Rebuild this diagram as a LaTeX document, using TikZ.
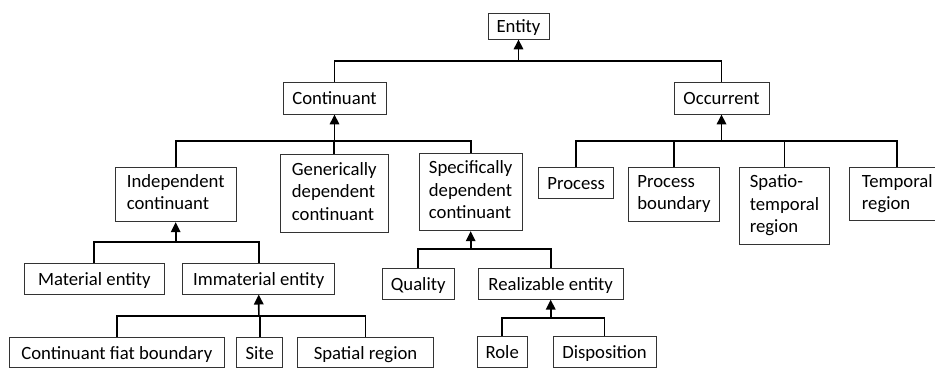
\documentclass[tikz,border=0pt]{standalone}
\usepackage{fontspec}
\setmainfont{Carlito}
\usetikzlibrary{arrows.meta}
\newcommand{\boxstrut}{\rule[-4.75pt]{0pt}{22.5pt}}
\tikzset{
  box/.style={draw=black!80, line width=0.9pt, fill=white, inner sep=0pt, align=left,
    font=\fontsize{18.7}{22.5}\selectfont,
    execute at begin node=\boxstrut, execute at end node=\boxstrut},
  conn/.style={line width=1.7pt, black},
  arr/.style={conn, -{Triangle[length=10pt,width=9.5pt]}},
}
\begin{document}
\begin{tikzpicture}[x=1pt,y=-1pt]
\useasboundingbox (0,0) rectangle (935,370);
% nodes
\node[box, minimum width=61pt, minimum height=26pt] (entity) at (518.5,26) {Entity};
\node[box, minimum width=103pt, minimum height=32pt] (cont) at (334.5,98) {Continuant};
\node[box, minimum width=95pt, minimum height=32pt] (occ) at (721.5,98) {Occurrent};
\node[box, minimum width=121.3pt, minimum height=54.4pt] (indep) at (175.7,194.5) {Independent\\continuant};
\node[box, minimum width=107.3pt, minimum height=77.6pt] (gen) at (334.3,193.5) {Generically\\dependent\\continuant};
\node[box, minimum width=103.3pt, minimum height=77.2pt] (spec) at (470.7,192.1) {Specifically\\dependent\\continuant};
\node[box, minimum width=75pt, minimum height=30.5pt] (proc) at (576.2,183) {Process};
\node[box, minimum width=91.4pt, minimum height=54pt] (pbound) at (674,194.7) {Process\\boundary};
\node[box, minimum width=90.4pt, minimum height=76.6pt] (streg) at (784.5,206) {Spatio-\\temporal\\region};
\node[box, minimum width=95.3pt, minimum height=53pt] (treg) at (897.3,194.2) {Temporal\\region};
\node[box, minimum width=140pt, minimum height=30.7pt] (mat) at (94.3,278.7) {Material entity};
\node[box, minimum width=152pt, minimum height=30.7pt] (immat) at (258.7,278.7) {Immaterial entity};
\node[box, minimum width=71.7pt, minimum height=30.7pt] (qual) at (418.2,283.7) {Quality};
\node[box, minimum width=144.7pt, minimum height=30.3pt] (real) at (550.7,284) {Realizable entity};
\node[box, minimum width=214.3pt, minimum height=30.4pt] (cfb) at (116.8,352.5) {Continuant fiat boundary};
\node[box, minimum width=46pt, minimum height=30.4pt] (site) at (259.7,352.5) {Site};
\node[box, minimum width=135.6pt, minimum height=30.4pt] (spat) at (365.5,352.5) {Spatial region};
\node[box, minimum width=49.7pt, minimum height=31.3pt] (role) at (502.2,352) {Role};
\node[box, minimum width=103pt, minimum height=31.3pt] (disp) at (604.5,352) {Disposition};
% bus coordinates
\coordinate (bE) at (518.5,60.7);
\coordinate (bC) at (334.5,140.7);
\coordinate (bO) at (721.5,140.7);
\coordinate (bI) at (175.7,242.3);
\coordinate (bM) at (258.9,315.7);
\coordinate (bS) at (470.7,249.3);
\coordinate (bR) at (550.7,318);
% Entity
\draw[conn] (cont.north) |- (bE) -| (occ.north);
\draw[arr] (bE) -- (entity.south);
% Continuant
\draw[conn] (indep.north) |- (bC) -| (spec.north);
\draw[conn] (gen.north) -- (gen.north |- bC);
\draw[arr] (bC) -- (cont.south);
% Occurrent
\draw[conn] (proc.north) |- (bO) -| (treg.north);
\draw[conn] (pbound.north) -- (pbound.north |- bO);
\draw[conn] (streg.north) -- (streg.north |- bO);
\draw[arr] (bO) -- (occ.south);
% Independent continuant
\draw[conn] (mat.north) |- (bI) -| (immat.north);
\draw[arr] (bI) -- (indep.south);
% Immaterial entity
\draw[conn] (cfb.north) |- (bM) -| (spat.north);
\draw[conn] (site.north) -- (site.north |- bM);
\draw[arr] (bM) -- (immat.south);
% Specifically dependent continuant
\draw[conn] (qual.north) |- (bS) -| (real.north);
\draw[arr] (bS) -- (spec.south);
% Realizable entity
\draw[conn] (role.north) |- (bR) -| (disp.north);
\draw[arr] (bR) -- (real.south);
\end{tikzpicture}
\end{document}
